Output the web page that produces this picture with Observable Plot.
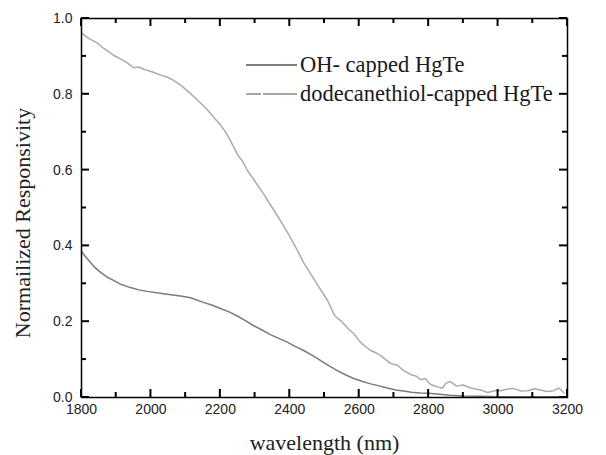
<!DOCTYPE html>
<html>
<head>
<meta charset="utf-8">
<script src="https://cdn.jsdelivr.net/npm/d3@7"></script>
<script src="https://cdn.jsdelivr.net/npm/@observablehq/plot@0.6"></script>
<style>
  body { margin: 0; background: #fff; }
  #chart svg { display: block; }
</style>
</head>
<body>
<div id="chart"></div>
<script>
// Photoresponse spectra of HgTe nanocrystal films with two ligand treatments
const seriesNames = ["OH- capped HgTe", "dodecanethiol-capped HgTe"];
const seriesColors = ["#7a7a7a", "#ababab"];
const legendColors = ["#555555", "#8a8a8a"];

const ohWavelength = [1800, 1813, 1826, 1840, 1855, 1873, 1892, 1915, 1941, 1965, 1990, 2036, 2085, 2114, 2151, 2175, 2200, 2225, 2249, 2272, 2295, 2320, 2344, 2373, 2393, 2415, 2440, 2465, 2488, 2512, 2537, 2560, 2584, 2610, 2633, 2660, 2681, 2705, 2728, 2750, 2777, 2800, 2825, 2860, 2900, 2950, 3000, 3100, 3190];
const ohResponse = [0.385, 0.370, 0.356, 0.342, 0.330, 0.318, 0.309, 0.298, 0.290, 0.284, 0.280, 0.274, 0.268, 0.263, 0.251, 0.244, 0.235, 0.226, 0.215, 0.203, 0.190, 0.178, 0.166, 0.154, 0.146, 0.135, 0.124, 0.111, 0.098, 0.084, 0.071, 0.060, 0.050, 0.042, 0.036, 0.030, 0.025, 0.020, 0.017, 0.014, 0.012, 0.011, 0.009, 0.006, 0.004, 0.003, 0.002, 0.002, 0.002];

const thiolWavelength = [1800, 1813, 1826, 1846, 1860, 1870, 1892, 1905, 1921, 1935, 1950, 1965, 1979, 1993, 2007, 2030, 2048, 2066, 2085, 2110, 2134, 2160, 2180, 2200, 2215, 2229, 2250, 2265, 2278, 2300, 2324, 2350, 2373, 2400, 2422, 2440, 2460, 2485, 2509, 2530, 2550, 2570, 2584, 2600, 2610, 2633, 2648, 2661, 2690, 2710, 2728, 2750, 2765, 2777, 2790, 2805, 2825, 2840, 2850, 2863, 2880, 2900, 2915, 2929, 2950, 2970, 2990, 3007, 3025, 3044, 3065, 3085, 3105, 3122, 3140, 3160, 3175, 3190];
const thiolResponse = [0.962, 0.952, 0.945, 0.935, 0.924, 0.918, 0.903, 0.897, 0.889, 0.881, 0.870, 0.872, 0.866, 0.862, 0.858, 0.850, 0.845, 0.836, 0.825, 0.805, 0.785, 0.762, 0.740, 0.720, 0.700, 0.678, 0.640, 0.622, 0.599, 0.570, 0.538, 0.500, 0.467, 0.425, 0.388, 0.355, 0.327, 0.290, 0.256, 0.215, 0.200, 0.180, 0.169, 0.150, 0.140, 0.124, 0.118, 0.111, 0.090, 0.085, 0.071, 0.060, 0.056, 0.047, 0.050, 0.035, 0.028, 0.025, 0.038, 0.042, 0.030, 0.033, 0.027, 0.024, 0.020, 0.013, 0.018, 0.018, 0.022, 0.024, 0.017, 0.018, 0.023, 0.020, 0.016, 0.018, 0.025, 0.012];

const xMajorTicks = [1800, 2000, 2200, 2400, 2600, 2800, 3000, 3200];
const xMinorTicks = [1900, 2100, 2300, 2500, 2700, 2900, 3100];
const yMajorTicks = [0, 0.2, 0.4, 0.6, 0.8, 1.0];
const yMinorTicks = [0.1, 0.3, 0.5, 0.7, 0.9];
const xTitle = "wavelength (nm)";
const yTitle = "Normailized Responsivity";

const rows = [
  ...ohWavelength.map((w, i) => ({series: seriesNames[0], wavelength: w, value: ohResponse[i]})),
  ...thiolWavelength.map((w, i) => ({series: seriesNames[1], wavelength: w, value: thiolResponse[i]}))
];

const serif = "'Liberation Serif', 'Times New Roman', serif";
const sans = "'Liberation Sans', Arial, sans-serif";

const chartWidth = 606, chartHeight = 455;
const margin = {top: 18, right: 39, bottom: 58, left: 81};

const plot = Plot.plot({
  width: chartWidth,
  height: chartHeight,
  marginLeft: margin.left,
  marginRight: margin.right,
  marginTop: margin.top,
  marginBottom: margin.bottom,
  style: {background: "#fff", fontFamily: sans},
  x: {domain: [1800, 3200]},
  y: {domain: [0, 1]},
  color: {domain: seriesNames, range: seriesColors},
  marks: [
    Plot.line(rows, {x: "wavelength", y: "value", z: "series", stroke: "series", strokeWidth: 1.5}),
    Plot.axisX(xMajorTicks, {anchor: "bottom", tickSize: 0, tickPadding: 7, fontSize: 14, fill: "#222", label: null, tickFormat: d => String(d)}),
    Plot.axisY(yMajorTicks, {anchor: "left", tickSize: 0, tickPadding: 9, fontSize: 14, fill: "#222", label: null, tickFormat: d3.format(".1f")}),
    Plot.frame({stroke: "#000", strokeWidth: 1.5}),
    Plot.text([xTitle], {frameAnchor: "bottom", text: d => d, dy: 45, fontSize: 22, fontFamily: serif, fill: "#222", lineAnchor: "middle", textAnchor: "middle"}),
    Plot.text([yTitle], {frameAnchor: "left", text: d => d, dx: -59, dy: 15, rotate: -90, fontSize: 22, fontFamily: serif, fill: "#222", lineAnchor: "middle", textAnchor: "middle"})
  ]
});

const svg = d3.select(plot);
const sx = plot.scale("x"), sy = plot.scale("y");
const boxLeft = margin.left, boxRight = chartWidth - margin.right;
const boxTop = margin.top, boxBottom = chartHeight - margin.bottom;

// inward tick marks on all four sides of the box, placed through the plot's scales
const tickLayer = svg.append("g").attr("stroke", "#000").attr("stroke-width", 2);
const addX = (values, len) => values.forEach(v => {
  const x = sx.apply(v);
  tickLayer.append("line").attr("x1", x).attr("x2", x).attr("y1", boxBottom).attr("y2", boxBottom - len);
  tickLayer.append("line").attr("x1", x).attr("x2", x).attr("y1", boxTop).attr("y2", boxTop + len);
});
const addY = (values, len) => values.forEach(v => {
  const y = sy.apply(v);
  tickLayer.append("line").attr("y1", y).attr("y2", y).attr("x1", boxLeft).attr("x2", boxLeft + len);
  tickLayer.append("line").attr("y1", y).attr("y2", y).attr("x1", boxRight).attr("x2", boxRight - len);
});
addX(xMajorTicks, 8);
addX(xMinorTicks, 5);
addY(yMajorTicks, 8);
addY(yMinorTicks, 5);

// legend: sample line followed by the series name
const legend = svg.append("g")
  .attr("font-family", serif)
  .attr("font-size", 22.5)
  .attr("fill", "#1a1a1a")
  .attr("text-anchor", "start");
seriesNames.forEach((name, i) => {
  const y = 65 + i * 29;
  legend.append("line")
    .attr("x1", 246).attr("x2", 297).attr("y1", y).attr("y2", y)
    .attr("stroke", legendColors[i]).attr("stroke-width", 1.4)
    .attr("stroke-dasharray", i === 1 ? "15,2,40" : null);
  legend.append("text").attr("x", 300).attr("y", y + 6.5).text(name);
});

document.getElementById("chart").append(plot);
</script>
</body>
</html>
